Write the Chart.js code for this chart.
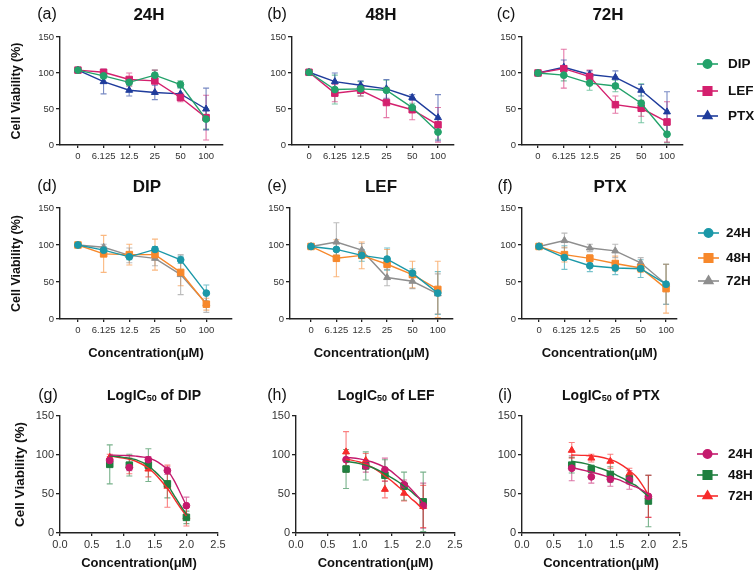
<!DOCTYPE html>
<html>
<head>
<meta charset="utf-8">
<script src="https://cdn.jsdelivr.net/npm/chart.js@4.4.0/dist/chart.umd.min.js"></script>
<style>
  html, body { margin: 0; padding: 0; background: #fff; }
  #figure { position: relative; width: 756px; height: 578px; overflow: hidden; }
  #figure canvas { position: absolute; }
</style>
</head>
<body>
<div id="figure"></div>
<script>
// concentrations (uM) on the category axis
const concLabels = ['0', '6.125', '12.5', '25', '50', '100'];

// (a)-(c): viability at each time point, one series per drug
const dip24 = [104, 96, 87, 97, 84, 36];
const dip24Sd = [1.5, 4, 5, 7, 5, 14];
const lef24 = [104, 101, 91, 89, 66, 38];
const lef24Sd = [1.5, 3, 9, 15, 6, 31];
const ptx24 = [104, 88, 76, 73, 71, 50];
const ptx24Sd = [1.5, 17, 8, 10, 9, 29];

const dip48 = [101, 77, 78, 76, 52, 18];
const dip48Sd = [1.5, 20, 10, 14, 6, 10];
const lef48 = [101, 72, 76, 59, 49, 28];
const lef48Sd = [1.5, 12, 8, 21, 14, 24];
const ptx48 = [101, 88, 83, 78, 66, 38];
const ptx48Sd = [1.5, 12, 6, 13, 4, 32];

const dip72 = [100, 97, 86, 82, 58, 15];
const dip72Sd = [1.5, 8, 10, 8, 27, 12];
const lef72 = [100, 106, 95, 56, 51, 32];
const lef72Sd = [1.5, 27, 9, 12, 11, 28];
const ptx72 = [100, 108, 98, 94, 76, 46];
const ptx72Sd = [1.5, 10, 5, 9, 8, 28];

// (d)-(i): viability per drug, one series per time point
const dipAt24 = [100, 93, 84, 94, 80, 35];
const dipAt24Sd = [1.5, 5, 4, 4, 5, 11];
const dipAt48 = [100, 88, 87, 87, 63, 20];
const dipAt48Sd = [1.5, 25, 14, 21, 18, 8];
const dipAt72 = [100, 97, 86, 82, 60, 21];
const dipAt72Sd = [1.5, 4, 10, 10, 27, 12];

const lefAt24 = [98, 94, 86, 81, 62, 35];
const lefAt24Sd = [1.5, 8, 8, 15, 6, 29];
const lefAt48 = [98, 82, 86, 74, 60, 40];
const lefAt48Sd = [1.5, 25, 18, 20, 18, 38];
const lefAt72 = [98, 104, 93, 56, 51, 34];
const lefAt72Sd = [1.5, 26, 9, 11, 10, 27];

const ptxAt24 = [98, 83, 72, 69, 68, 47];
const ptxAt24Sd = [1.5, 16, 8, 9, 12, 27];
const ptxAt48 = [98, 87, 82, 75, 69, 41];
const ptxAt48Sd = [1.5, 10, 5, 10, 6, 33];
const ptxAt72 = [98, 106, 96, 92, 76, 47];
const ptxAt72Sd = [1.5, 10, 5, 9, 7, 27];

// (g)-(i): fitted curves at these log concentrations
const fitX = [0.78, 1.0, 1.2, 1.4, 1.5, 1.6, 1.7, 1.8, 1.9, 2.0];
const dipFit24 = [100, 99.5, 98.5, 96, 93, 88, 81, 68, 52, 35];
const dipFit48 = [99, 97, 94, 86, 79, 71, 62, 49, 36, 24];
const dipFit72 = [99, 96, 92, 83, 76, 67, 57, 45, 33, 22];
const lefFit24 = [97, 95, 91, 84, 79, 72, 65, 57, 48, 38];
const lefFit48 = [92, 89, 84, 76, 71, 66, 60, 54, 47, 41];
const lefFit72 = [95, 91, 84, 73, 67, 60, 53, 45, 38, 30];
const ptxFit24 = [84, 80, 76, 71, 69, 66, 62, 59, 55, 50];
const ptxFit48 = [92, 89, 84, 78, 74, 70, 65, 61, 54, 47];
const ptxFit72 = [100, 99.5, 98, 94, 91, 86, 80, 73, 62, 49];

const FONT = '"Liberation Sans", Arial, Helvetica, sans-serif';
const AXIS = '#222';
Chart.defaults.font.family = FONT;
Chart.defaults.color = '#333';

function fade(hex, a) {
  const n = parseInt(hex.slice(1), 16);
  return `rgba(${n >> 16},${(n >> 8) & 255},${n & 255},${a})`;
}

// error bars, drawn under the markers
const errorBarPlugin = {
  id: 'errorBars',
  beforeDatasetsDraw(chart) {
    const { ctx, scales: { x, y } } = chart;
    chart.data.datasets.forEach(ds => {
      if (!ds.errors) return;
      ctx.save();
      ctx.strokeStyle = ds.errorColor;
      ctx.lineWidth = 1.1;
      ds.data.forEach((pt, j) => {
        const e = ds.errors[j];
        const px = x.getPixelForValue(pt.x);
        const top = y.getPixelForValue(pt.y + e);
        const bot = y.getPixelForValue(pt.y - e);
        ctx.beginPath();
        ctx.moveTo(px, top); ctx.lineTo(px, bot);
        ctx.moveTo(px - 3, top); ctx.lineTo(px + 3, top);
        ctx.moveTo(px - 3, bot); ctx.lineTo(px + 3, bot);
        ctx.stroke();
      });
      ctx.restore();
    });
  }
};

// panel letter and title, with an optional subscript part
const panelTextPlugin = {
  id: 'panelText',
  afterDraw(chart, args, o) {
    const ctx = chart.ctx;
    const [ox, oy] = o.origin;
    ctx.save();
    ctx.fillStyle = '#111';
    ctx.textBaseline = 'middle';
    ctx.textAlign = 'left';
    ctx.font = `16px ${FONT}`;
    const tw = ctx.measureText(o.tag).width;
    ctx.fillText(o.tag, o.tagAt[0] - ox - tw / 2, o.tagAt[1] - oy);

    const size = o.titleSize;
    const parts = o.title.map(p => ({
      text: p.text, sub: !!p.sub,
      font: `bold ${p.sub ? Math.round(size * 0.64) : size}px ${FONT}`
    }));
    let total = 0;
    parts.forEach(p => { ctx.font = p.font; p.w = ctx.measureText(p.text).width; total += p.w; });
    let cx = o.titleAt[0] - ox - total / 2;
    const cy = o.titleAt[1] - oy;
    parts.forEach(p => {
      ctx.font = p.font;
      ctx.fillText(p.text, cx, p.sub ? cy + size * 0.2 : cy);
      cx += p.w;
    });
    ctx.restore();
  }
};

// legend to the right of the last panel in a row: line with marker, bold label
const sideLegendPlugin = {
  id: 'sideLegend',
  afterDraw(chart, args, o) {
    if (!o.ys) return;
    const ctx = chart.ctx;
    const [ox, oy] = o.origin;
    const items = chart.data.datasets.filter(ds => ds.inLegend);
    ctx.save();
    items.forEach((ds, k) => {
      const y = o.ys[k] - oy;
      ctx.strokeStyle = ds.borderColor;
      ctx.lineWidth = 1.6;
      ctx.beginPath();
      ctx.moveTo(o.lineX[0] - ox, y);
      ctx.lineTo(o.lineX[1] - ox, y);
      ctx.stroke();
      ctx.fillStyle = ds.pointBackgroundColor;
      ctx.strokeStyle = ds.pointBorderColor;
      const r = ds.pointStyle === 'rect' ? 6 : (ds.pointStyle === 'triangle' ? 5 : 4.2);
      Chart.helpers.drawPoint(ctx, { pointStyle: ds.pointStyle, rotation: 0, radius: r, borderWidth: 1 },
        (o.lineX[0] + o.lineX[1]) / 2 - ox, y);
      ctx.fillStyle = '#111';
      ctx.font = `bold 13.5px ${FONT}`;
      ctx.textAlign = 'left';
      ctx.textBaseline = 'middle';
      ctx.fillText(ds.label, o.textX - ox, y);
    });
    ctx.restore();
  }
};

function pointSeries(name, color, style, xs, values, sd, withLine) {
  return {
    label: name,
    data: values.map((v, i) => ({ x: xs[i], y: v })),
    errors: sd,
    errorColor: fade(color, 0.6),
    inLegend: true,
    showLine: withLine,
    borderColor: color,
    backgroundColor: color,
    borderWidth: 1.4,
    pointStyle: style,
    pointRadius: style === 'rect' ? 4.6 : (style === 'triangle' ? 4 : 3.4),
    pointBackgroundColor: color,
    pointBorderColor: color,
    pointBorderWidth: 1,
    tension: 0
  };
}

function curveSeries(color, values) {
  return {
    label: '',
    data: values.map((v, i) => ({ x: fitX[i], y: v })),
    borderColor: color,
    borderWidth: 1.4,
    pointRadius: 0,
    cubicInterpolationMode: 'monotone'
  };
}

const idx = concLabels.map((c, i) => i);
const logConc = concLabels.slice(1).map(c => Math.log10(parseFloat(c)));

const C1 = { dip: '#23a26a', lef: '#d4206e', ptx: '#1f3c9c' };
const C2 = { h24: '#1b98a8', h48: '#f7882b', h72: '#8e8e8e' };
const C3 = { h24: '#c41a6d', h48: '#1f7f3f', h72: '#f72b2b' };

function byTime(dip, dipSd, lef, lefSd, ptx, ptxSd) {
  return [
    pointSeries('DIP', C1.dip, 'circle', idx, dip, dipSd, true),
    pointSeries('LEF', C1.lef, 'rect', idx, lef, lefSd, true),
    pointSeries('PTX', C1.ptx, 'triangle', idx, ptx, ptxSd, true)
  ];
}

function byDrug(a24, s24, a48, s48, a72, s72) {
  return [
    pointSeries('24H', C2.h24, 'circle', idx, a24, s24, true),
    pointSeries('48H', C2.h48, 'rect', idx, a48, s48, true),
    pointSeries('72H', C2.h72, 'triangle', idx, a72, s72, true)
  ];
}

function fitted(a24, s24, a48, s48, a72, s72, f24, f48, f72) {
  return [
    curveSeries(C3.h24, f24),
    curveSeries(C3.h48, f48),
    curveSeries(C3.h72, f72),
    pointSeries('24H', C3.h24, 'circle', logConc, a24.slice(1), s24.slice(1), false),
    pointSeries('48H', C3.h48, 'rect', logConc, a48.slice(1), s48.slice(1), false),
    pointSeries('72H', C3.h72, 'triangle', logConc, a72.slice(1), s72.slice(1), false)
  ];
}

const legend1 = { ys: [64, 91, 116], lineX: [697, 718], textX: 728 };
const legend2 = { ys: [233, 258, 281], lineX: [698, 719], textX: 726 };
const legend3 = { ys: [454, 475, 496], lineX: [697, 718], textX: 728 };

const panels = [
  { rect: [0, 0, 250, 175], area: [60, 223, 37, 145], xRange: [-0.70, 5.66], row: 1,
    tag: '(a)', tagAt: [47, 15], title: [{ text: '24H' }], titleAt: [149, 15],
    series: byTime(dip24, dip24Sd, lef24, lef24Sd, ptx24, ptx24Sd) },
  { rect: [250, 0, 238, 175], area: [292, 454, 37, 145], xRange: [-0.66, 5.62], row: 1,
    tag: '(b)', tagAt: [277, 15], title: [{ text: '48H' }], titleAt: [381, 15],
    series: byTime(dip48, dip48Sd, lef48, lef48Sd, ptx48, ptx48Sd) },
  { rect: [488, 0, 268, 175], area: [522, 683, 37, 145], xRange: [-0.62, 5.62], row: 1,
    tag: '(c)', tagAt: [506, 15], title: [{ text: '72H' }], titleAt: [608, 15],
    series: byTime(dip72, dip72Sd, lef72, lef72Sd, ptx72, ptx72Sd), legend: legend1 },

  { rect: [0, 175, 250, 195], area: [60, 232, 208, 319], xRange: [-0.70, 6.0], row: 2,
    tag: '(d)', tagAt: [47, 187], title: [{ text: 'DIP' }], titleAt: [147, 187],
    series: byDrug(dipAt24, dipAt24Sd, dipAt48, dipAt48Sd, dipAt72, dipAt72Sd) },
  { rect: [250, 175, 238, 195], area: [290, 453, 208, 319], xRange: [-0.83, 5.6], row: 2,
    tag: '(e)', tagAt: [277, 187], title: [{ text: 'LEF' }], titleAt: [381, 187],
    series: byDrug(lefAt24, lefAt24Sd, lefAt48, lefAt48Sd, lefAt72, lefAt72Sd) },
  { rect: [488, 175, 268, 195], area: [522, 677, 208, 319], xRange: [-0.67, 5.43], row: 2,
    tag: '(f)', tagAt: [505, 187], title: [{ text: 'PTX' }], titleAt: [610, 187],
    series: byDrug(ptxAt24, ptxAt24Sd, ptxAt48, ptxAt48Sd, ptxAt72, ptxAt72Sd), legend: legend2 },

  { rect: [0, 370, 250, 208], area: [60, 218, 416, 533], row: 3,
    tag: '(g)', tagAt: [48, 396], title: [{ text: 'LogIC' }, { text: '50', sub: true }, { text: ' of DIP' }], titleAt: [154, 396],
    series: fitted(dipAt24, dipAt24Sd, dipAt48, dipAt48Sd, dipAt72, dipAt72Sd, dipFit24, dipFit48, dipFit72) },
  { rect: [250, 370, 238, 208], area: [296, 455, 416, 533], row: 3,
    tag: '(h)', tagAt: [277, 396], title: [{ text: 'LogIC' }, { text: '50', sub: true }, { text: ' of LEF' }], titleAt: [386, 396],
    series: fitted(lefAt24, lefAt24Sd, lefAt48, lefAt48Sd, lefAt72, lefAt72Sd, lefFit24, lefFit48, lefFit72) },
  { rect: [488, 370, 268, 208], area: [522, 680, 416, 533], row: 3,
    tag: '(i)', tagAt: [505, 396], title: [{ text: 'LogIC' }, { text: '50', sub: true }, { text: ' of PTX' }], titleAt: [611, 396],
    series: fitted(ptxAt24, ptxAt24Sd, ptxAt48, ptxAt48Sd, ptxAt72, ptxAt72Sd, ptxFit24, ptxFit48, ptxFit72), legend: legend3 }
];

const fig = document.getElementById('figure');

function buildPanel(p) {
  const [x0, y0, w, h] = p.rect;
  const [l, r, t, b] = p.area;
  const yWidth = l - x0;
  const xHeight = y0 + h - b;
  const leftCol = x0 === 0;
  const big = p.row === 3;

  const canvas = document.createElement('canvas');
  canvas.width = w;
  canvas.height = h;
  canvas.style.left = x0 + 'px';
  canvas.style.top = y0 + 'px';
  fig.appendChild(canvas);

  let xScale;
  if (p.row === 3) {
    xScale = {
      type: 'linear', min: 0, max: 2.5,
      ticks: { stepSize: 0.5, callback: v => v.toFixed(1), font: { size: 11 }, padding: 2, maxRotation: 0 },
      grid: { drawOnChartArea: false, drawTicks: true, tickLength: 3, color: AXIS, lineWidth: 1.3 }
    };
  } else {
    xScale = {
      type: 'linear', min: p.xRange[0], max: p.xRange[1],
      afterBuildTicks: s => { s.ticks = idx.map(i => ({ value: i })); },
      ticks: { callback: v => concLabels[v], font: { size: 9.5 }, padding: 3, maxRotation: 0, autoSkip: false },
      grid: { drawOnChartArea: false, drawTicks: true, tickLength: 3, color: AXIS, lineWidth: 1.3 }
    };
  }
  xScale.border = { display: true, color: AXIS, width: 1.4 };
  xScale.title = {
    display: p.row > 1, text: 'Concentration(\u03bcM)', color: '#111',
    font: { size: 13, weight: 'bold' }, padding: { top: 0, bottom: big ? 7 : 9 }
  };
  xScale.afterFit = s => { s.height = xHeight; };

  const yScale = {
    type: 'linear', min: 0, max: 150,
    ticks: { stepSize: 50, font: { size: big ? 11 : 9.5 }, padding: 2 },
    grid: { drawOnChartArea: false, drawTicks: true, tickLength: 4, color: AXIS, lineWidth: 1.3 },
    border: { display: true, color: AXIS, width: 1.4 },
    title: {
      display: leftCol, text: 'Cell Viability (%)', color: '#111',
      font: { size: big ? 13.5 : 12.5, weight: 'bold' }, padding: { top: big ? 12 : 9.5, bottom: 0 }
    },
    afterFit: s => { s.width = yWidth; }
  };

  new Chart(canvas, {
    type: 'line',
    data: { datasets: p.series },
    options: {
      responsive: false,
      animation: false,
      layout: { padding: { left: 0, top: t - y0, right: x0 + w - r, bottom: 0 } },
      plugins: {
        legend: { display: false },
        tooltip: { enabled: false },
        panelText: { origin: [x0, y0], tag: p.tag, tagAt: p.tagAt, title: p.title, titleAt: p.titleAt, titleSize: big ? 14 : 17 },
        sideLegend: p.legend ? Object.assign({ origin: [x0, y0] }, p.legend) : {}
      },
      scales: { x: xScale, y: yScale }
    },
    plugins: [errorBarPlugin, panelTextPlugin, sideLegendPlugin]
  });
}

panels.forEach(buildPanel);
</script>
</body>
</html>
